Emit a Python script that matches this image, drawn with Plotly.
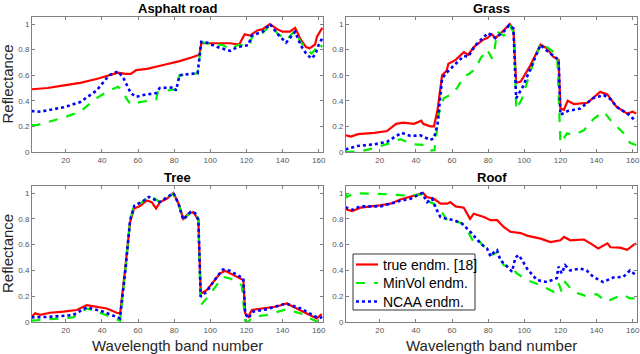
import plotly.graph_objects as go

# ---------------- data (band number, reflectance) ----------------
panel_titles = ["Asphalt road", "Grass", "Tree", "Roof"]
series_names = ["true endm. [18]", "MinVol endm.", "NCAA endm."]
x_ticks = [20, 40, 60, 80, 100, 120, 140, 160]
y_ticks = [0, 0.2, 0.4, 0.6, 0.8, 1]
y_tick_labels = ["0", "0.2", "0.4", "0.6", "0.8", "1"]

# Asphalt road
asphalt_true_x = [1, 10, 19, 28, 37, 44, 49, 53, 56, 59, 65, 74, 83, 90, 94, 95, 100, 105, 111, 116, 119, 122, 126, 129, 133, 137, 140, 144, 147, 150, 153, 155, 158, 159, 162]
asphalt_true_y = [0.49, 0.50, 0.52, 0.54, 0.57, 0.60, 0.62, 0.61, 0.61, 0.64, 0.65, 0.68, 0.71, 0.74, 0.76, 0.85, 0.85, 0.85, 0.85, 0.84, 0.92, 0.91, 0.95, 0.96, 1.0, 0.96, 0.94, 0.94, 0.97, 0.88, 0.82, 0.81, 0.84, 0.90, 0.97]
asphalt_minvol_x = [1, 4, 19, 28, 37, 44, 49, 51, 54, 56, 61, 69, 70, 71, 81, 83, 93, 95, 98, 107, 111, 115, 122, 123, 129, 133, 137, 142, 147, 150, 153, 156, 158, 160, 162]
asphalt_minvol_y = [0.21, 0.21, 0.27, 0.315, 0.42, 0.48, 0.51, 0.48, 0.41, 0.37, 0.39, 0.41, 0.41, 0.47, 0.49, 0.60, 0.615, 0.86, 0.85, 0.835, 0.80, 0.835, 0.835, 0.90, 0.93, 0.99, 0.93, 0.875, 0.95, 0.86, 0.81, 0.77, 0.80, 0.85, 0.82]
asphalt_ncaa_x = [1, 6, 19, 28, 37, 44, 49, 52, 56, 59, 63, 70, 72, 80, 81, 83, 89, 93, 95, 98, 104, 111, 115, 121, 123, 129, 133, 138, 142, 147, 150, 153, 156, 158, 160, 162]
asphalt_ncaa_y = [0.32, 0.315, 0.35, 0.39, 0.48, 0.60, 0.63, 0.575, 0.46, 0.43, 0.445, 0.46, 0.50, 0.505, 0.48, 0.60, 0.61, 0.615, 0.86, 0.855, 0.82, 0.79, 0.82, 0.835, 0.91, 0.94, 1.0, 0.91, 0.855, 0.94, 0.835, 0.77, 0.73, 0.76, 0.835, 0.89]

# Grass
grass_true_x = [1, 4, 8, 17, 24, 29, 33, 39, 43, 44, 48, 50, 52, 54.5, 57, 58, 62, 66.5, 69, 72, 77.5, 79.5, 82, 84, 88.5, 92, 94, 95.5, 98, 103, 109, 112.5, 116, 119, 120, 122, 124, 127.5, 135, 142, 146, 151, 157, 160, 162]
grass_true_y = [0.13, 0.12, 0.14, 0.15, 0.164, 0.22, 0.23, 0.22, 0.245, 0.22, 0.20, 0.20, 0.33, 0.60, 0.635, 0.69, 0.72, 0.78, 0.76, 0.82, 0.88, 0.89, 0.92, 0.89, 0.95, 1.0, 0.95, 0.54, 0.55, 0.667, 0.84, 0.81, 0.745, 0.72, 0.34, 0.33, 0.40, 0.375, 0.385, 0.47, 0.45, 0.354, 0.30, 0.315, 0.30]
grass_minvol_x = [1, 9.3, 16.7, 26, 31.4, 35, 38.8, 44.4, 48, 50.3, 52.7, 55.4, 59, 62.8, 66.5, 69.3, 73, 75.7, 79.4, 82.2, 83.5, 85, 88.6, 92.3, 94.2, 95.6, 98.8, 103.4, 109, 112.6, 118.2, 120, 123.7, 127.4, 133, 138.4, 144, 147.7, 151.4, 155, 158.7, 162]
grass_minvol_y = [0.0, 0.005, 0.03, 0.07, 0.10, 0.08, 0.06, 0.055, 0.01, 0.015, 0.30, 0.42, 0.445, 0.50, 0.59, 0.61, 0.65, 0.73, 0.80, 0.73, 0.80, 0.94, 0.91, 0.98, 0.93, 0.33, 0.42, 0.63, 0.85, 0.82, 0.76, 0.07, 0.146, 0.133, 0.17, 0.26, 0.315, 0.25, 0.20, 0.146, 0.07, 0.055]
grass_ncaa_x = [1, 7.5, 17, 24, 32, 37, 42.5, 48, 50, 52, 54.5, 57, 62, 66.5, 69, 73, 80, 84, 88.5, 91.5, 94, 95.5, 99, 103, 109, 113.5, 119, 120, 124, 131, 138, 144, 148, 151, 157, 162]
grass_ncaa_y = [0.02, 0.047, 0.06, 0.08, 0.15, 0.125, 0.13, 0.094, 0.107, 0.22, 0.575, 0.62, 0.69, 0.75, 0.745, 0.836, 0.93, 0.89, 0.94, 0.99, 0.966, 0.42, 0.505, 0.64, 0.836, 0.78, 0.72, 0.29, 0.32, 0.34, 0.42, 0.445, 0.41, 0.354, 0.30, 0.24]

# Tree
tree_true_x = [1.2, 3, 5.8, 11.3, 18.7, 26.1, 31.6, 37.2, 42.7, 48.2, 50.1, 52.8, 55.6, 57.8, 61.1, 64.8, 67.6, 70, 72.2, 75.9, 79.6, 82.4, 85.1, 87.9, 90.6, 93.4, 94.7, 98, 101.7, 105.4, 108.2, 112.8, 118.3, 119.3, 121.1, 123, 129.5, 136.8, 142.3, 147.9, 153.4, 158.9, 161.7]
tree_true_y = [0.04, 0.067, 0.055, 0.072, 0.08, 0.093, 0.13, 0.12, 0.105, 0.072, 0.067, 0.40, 0.776, 0.88, 0.90, 0.943, 0.93, 0.88, 0.93, 0.956, 1.0, 0.918, 0.80, 0.84, 0.853, 0.79, 0.22, 0.247, 0.31, 0.376, 0.397, 0.363, 0.325, 0.067, 0.04, 0.093, 0.105, 0.12, 0.144, 0.105, 0.067, 0.028, 0.062]
tree_minvol_x = [1, 11, 24, 31.6, 40.8, 48, 50, 53, 55.6, 58, 62, 66, 69.5, 72, 79.6, 82.4, 85, 89, 91.6, 93.4, 94.7, 98, 103.6, 107, 111, 117.4, 119.3, 121, 123.7, 131, 142, 150, 155, 160, 162]
tree_minvol_y = [0.01, 0.02, 0.036, 0.105, 0.062, 0.02, 0.01, 0.40, 0.785, 0.918, 0.925, 0.98, 0.955, 0.93, 0.995, 0.918, 0.79, 0.85, 0.853, 0.79, 0.13, 0.183, 0.286, 0.35, 0.338, 0.286, 0.01, 0.0, 0.04, 0.054, 0.098, 0.067, 0.028, 0.0, 0.01]
tree_ncaa_x = [1, 11, 24, 31.6, 40.8, 48, 50, 53, 55.6, 58, 62, 66, 69.5, 72, 79.6, 82.4, 85, 89, 91.6, 93.4, 94.7, 98, 103.6, 107, 111, 118.3, 119.3, 121, 123.7, 131, 142, 150, 155, 160, 162]
tree_ncaa_y = [0.036, 0.04, 0.054, 0.113, 0.08, 0.04, 0.028, 0.40, 0.79, 0.905, 0.93, 0.97, 0.95, 0.93, 1.0, 0.918, 0.794, 0.853, 0.845, 0.794, 0.196, 0.235, 0.35, 0.407, 0.397, 0.338, 0.067, 0.028, 0.08, 0.098, 0.144, 0.105, 0.067, 0.028, 0.04]

# Roof
roof_true_x = [1, 2, 4.7, 9.3, 20, 26, 31.4, 40.7, 44, 46, 50, 53.6, 57.3, 59, 62, 66.5, 70, 72, 77.6, 81.3, 85, 88.6, 92.3, 98, 101.5, 109, 114.5, 120, 122, 125.5, 133, 136.6, 141, 146, 147.7, 153, 157, 160.6, 162]
roof_true_y = [0.887, 0.87, 0.86, 0.887, 0.905, 0.918, 0.95, 0.985, 1.0, 0.97, 0.956, 0.918, 0.918, 0.93, 0.897, 0.887, 0.80, 0.84, 0.814, 0.79, 0.79, 0.737, 0.70, 0.69, 0.67, 0.647, 0.62, 0.634, 0.66, 0.634, 0.64, 0.61, 0.57, 0.61, 0.58, 0.577, 0.56, 0.60, 0.61]
roof_minvol_x = [1, 1.9, 5.6, 16.7, 25.9, 35.1, 43.4, 46.2, 49.9, 53.6, 57.3, 61, 65.6, 68.3, 70.2, 72, 73.8, 79.4, 81.3, 84.9, 88.6, 92.3, 96, 101.5, 108.9, 116.3, 119, 120.7, 122.6, 127.2, 134.5, 140.1, 145.6, 149.3, 154.8, 158.5, 161.8]
roof_minvol_y = [1.0, 0.97, 1.0, 0.995, 0.99, 0.98, 0.99, 0.94, 0.918, 0.866, 0.79, 0.79, 0.763, 0.71, 0.66, 0.62, 0.65, 0.557, 0.518, 0.54, 0.44, 0.43, 0.376, 0.325, 0.286, 0.235, 0.30, 0.235, 0.31, 0.235, 0.20, 0.216, 0.157, 0.183, 0.21, 0.183, 0.183]
roof_ncaa_x = [1, 4.7, 9.3, 20.4, 25.9, 31.4, 37, 43.4, 46.2, 49, 50.8, 53.6, 57.3, 61, 65.6, 68.3, 71.1, 75.7, 79.4, 81.3, 83.1, 84.9, 86.8, 90.5, 93.2, 95.1, 96.9, 98.8, 101.5, 107, 112.5, 118, 118.9, 120.7, 122.6, 125.4, 130.9, 134.5, 138.2, 143.7, 149.2, 154.8, 158.5, 161.8]
roof_ncaa_y = [0.89, 0.87, 0.897, 0.897, 0.918, 0.94, 0.956, 1.0, 0.93, 0.956, 0.89, 0.814, 0.80, 0.79, 0.763, 0.724, 0.686, 0.61, 0.57, 0.51, 0.54, 0.557, 0.48, 0.43, 0.39, 0.50, 0.52, 0.48, 0.415, 0.325, 0.31, 0.34, 0.43, 0.376, 0.44, 0.40, 0.415, 0.40, 0.35, 0.31, 0.345, 0.35, 0.40, 0.363]

panels_data = [
    [(asphalt_true_x, asphalt_true_y), (asphalt_minvol_x, asphalt_minvol_y), (asphalt_ncaa_x, asphalt_ncaa_y)],
    [(grass_true_x, grass_true_y), (grass_minvol_x, grass_minvol_y), (grass_ncaa_x, grass_ncaa_y)],
    [(tree_true_x, tree_true_y), (tree_minvol_x, tree_minvol_y), (tree_ncaa_x, tree_ncaa_y)],
    [(roof_true_x, roof_true_y), (roof_minvol_x, roof_minvol_y), (roof_ncaa_x, roof_ncaa_y)],
]

# ---------------- styling ----------------
W, H = 640, 354
line_styles = [
    dict(color="#ff0000", width=2.2, dash="solid"),
    dict(color="#00ee00", width=2.2, dash="dash"),
    dict(color="#0000ff", width=2.6, dash="dot"),
]
# pixel boxes of the four axes: (left, right, top, bottom)
boxes = [(32, 323, 17, 152), (346, 637, 17, 152), (32, 323, 186, 322), (346, 637, 186, 322)]

fig = go.Figure()
axis_color = "#808080"
font_family = "Arial, Liberation Sans, sans-serif"

for i, (series, box) in enumerate(zip(panels_data, boxes)):
    n = i + 1
    xa = "x" if n == 1 else f"x{n}"
    ya = "y" if n == 1 else f"y{n}"
    for j, (xs, ys) in enumerate(series):
        fig.add_trace(go.Scatter(
            x=xs, y=ys, mode="lines", line=line_styles[j],
            name=series_names[j], showlegend=False,
            xaxis=xa, yaxis=ya, hoverinfo="skip"))
    l, r, t, b = box
    xkey = "xaxis" if n == 1 else f"xaxis{n}"
    ykey = "yaxis" if n == 1 else f"yaxis{n}"
    fig.update_layout(**{
        xkey: dict(domain=[l / W, r / W], range=[1.3, 162.4], anchor=ya,
                   tickvals=x_ticks, ticks="inside", ticklen=3, tickcolor=axis_color,
                   showline=True, linecolor=axis_color, linewidth=1, mirror="ticks",
                   showgrid=False, zeroline=False, automargin=False,
                   tickfont=dict(size=8, color="#555555", family=font_family)),
        ykey: dict(domain=[1 - b / H, 1 - t / H], range=[0, 1.055], anchor=xa,
                   tickvals=y_ticks, ticktext=y_tick_labels, ticks="inside", ticklen=3,
                   tickcolor=axis_color, automargin=False,
                   showline=True, linecolor=axis_color, linewidth=1, mirror="ticks",
                   showgrid=False, zeroline=False,
                   tickfont=dict(size=8, color="#555555", family=font_family)),
    })
    fig.add_annotation(text=f"<b>{panel_titles[i]}</b>", xref="paper", yref="paper",
                       x=(l + r) / 2 / W, y=1 - (t - 9) / H, xanchor="center", yanchor="middle",
                       showarrow=False, font=dict(size=13, color="#000000", family=font_family))
    if n >= 3:
        fig.add_annotation(text="Wavelength band number", xref="paper", yref="paper",
                           x=(l + r) / 2 / W, y=1 - 345 / H, xanchor="center", yanchor="middle",
                           showarrow=False, font=dict(size=15, color="#262626", family=font_family))

# y-axis titles on the left column
for (l, r, t, b) in (boxes[0], boxes[2]):
    fig.add_annotation(text="Reflectance", xref="paper", yref="paper",
                       x=7 / W, y=1 - ((t + b) / 2) / H, textangle=-90,
                       xanchor="center", yanchor="middle", showarrow=False,
                       font=dict(size=15, color="#262626", family=font_family))

# legend box (decoration) inside the Roof panel
leg_l, leg_r, leg_t, leg_b = 353, 475, 254, 310
fig.add_shape(type="rect", xref="paper", yref="paper",
              x0=leg_l / W, x1=leg_r / W, y0=1 - leg_b / H, y1=1 - leg_t / H,
              line=dict(color="#333333", width=1), fillcolor="white", layer="above")
legend_rows = [264.5, 283, 301.5]
for j, ry in enumerate(legend_rows):
    fig.add_shape(type="line", xref="paper", yref="paper",
                  x0=356 / W, x1=378 / W, y0=1 - ry / H, y1=1 - ry / H,
                  line=line_styles[j], layer="above")
    fig.add_annotation(text=series_names[j], xref="paper", yref="paper",
                       x=381 / W, y=1 - ry / H, xanchor="left", yanchor="middle",
                       showarrow=False, font=dict(size=14, color="#000000", family=font_family))

fig.update_layout(
    width=W, height=H, margin=dict(l=0, r=0, t=0, b=0),
    paper_bgcolor="white", plot_bgcolor="white", showlegend=False,
)

fig.write_html("out.html", config={"displayModeBar": False},
               post_script="document.body.style.margin='0';document.body.style.padding='0';")
